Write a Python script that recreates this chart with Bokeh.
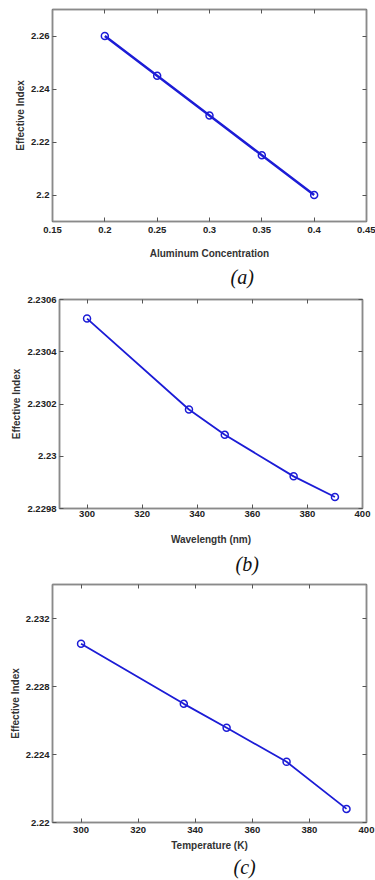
from bokeh.plotting import figure
from bokeh.layouts import column, row
from bokeh.models import FixedTicker, LinearAxis, Range1d, Title, CustomJSTickFormatter
from bokeh.embed import file_html
from bokeh.resources import INLINE

# ---- data (a) ----
al_conc = [0.20, 0.25, 0.30, 0.35, 0.40]
neff_al = [2.260, 2.245, 2.230, 2.215, 2.200]
xticks_a = [0.15, 0.20, 0.25, 0.30, 0.35, 0.40, 0.45]
yticks_a = [2.20, 2.22, 2.24, 2.26]

# ---- data (b) ----
wavelength = [300, 337, 350, 375, 390]
neff_wl = [2.230527, 2.230179, 2.230082, 2.229923, 2.229844]
xticks_b = [300, 320, 340, 360, 380, 400]
yticks_b = [2.2298, 2.2300, 2.2302, 2.2304, 2.2306]

# ---- data (c) ----
temperature = [300, 336, 351, 372, 393]
neff_t = [2.23051, 2.22698, 2.22557, 2.22357, 2.22080]
xticks_c = [300, 320, 340, 360, 380, 400]
yticks_c = [2.220, 2.224, 2.228, 2.232]

BLUE = "#1c1cd6"
GRAY = "#8a8a8a"
TICKFONT = "Liberation Sans"
fmt_code = "return parseFloat(tick.toFixed(6)).toString();"


def mirror_axis(ticks):
    return LinearAxis(ticker=FixedTicker(ticks=ticks), major_label_text_font_size="1px",
                      major_label_text_font=TICKFONT,
                      major_label_text_color=None, major_tick_in=4, major_tick_out=0,
                      major_label_standoff=0, minor_tick_line_color=None,
                      axis_line_color=GRAY, axis_line_width=1.5,
                      major_tick_line_color="#555555")


def make_panel(x, y, xr, yr, xt, yt, xlabel, caption, h, bl, br, bt, bb,
               cap_offset, lw, tick_standoff, axlabel_standoff, cap_standoff):
    p = figure(width=375, height=h, output_backend="svg",
               toolbar_location=None, x_range=Range1d(*xr), y_range=Range1d(*yr),
               min_border_left=bl, min_border_right=br, min_border_top=bt,
               min_border_bottom=bb, background_fill_color="white",
               border_fill_color="white")
    p.grid.visible = False
    p.outline_line_color = GRAY
    p.outline_line_width = 1.5

    for ax, ticks in ((p.xaxis[0], xt), (p.yaxis[0], yt)):
        ax.ticker = FixedTicker(ticks=ticks)
        ax.formatter = CustomJSTickFormatter(code=fmt_code)
        ax.major_tick_in = 4
        ax.major_tick_out = 0
        ax.minor_tick_line_color = None
        ax.axis_line_color = GRAY
        ax.axis_line_width = 1.5
        ax.major_tick_line_color = "#555555"
        ax.major_label_text_font = TICKFONT
        ax.major_label_text_font_style = "bold"
        ax.major_label_text_font_size = "9.5px"
        ax.major_label_text_color = "#222222"
        ax.axis_label_text_font = TICKFONT
        ax.axis_label_text_font_style = "bold"
        ax.axis_label_text_font_size = "10px"
        ax.axis_label_text_color = "#333333"

    p.xaxis[0].major_label_standoff = tick_standoff
    p.yaxis[0].major_label_standoff = 3
    p.xaxis[0].axis_label = xlabel
    p.xaxis[0].axis_label_standoff = axlabel_standoff
    p.yaxis[0].axis_label = "Effective Index"
    p.yaxis[0].axis_label_standoff = 2

    # mirrored tick marks on top and right (box style)
    p.add_layout(mirror_axis(xt), "above")
    p.add_layout(mirror_axis(yt), "right")

    p.line(x, y, line_color=BLUE, line_width=lw)
    p.scatter(x, y, marker="circle", size=7, fill_color=None,
              line_color=BLUE, line_width=1.5)

    p.add_layout(Title(text=caption, text_font="Liberation Serif",
                       text_font_style="italic", text_font_size="20px",
                       text_color="#111111", align="left", offset=cap_offset,
                       standoff=cap_standoff), "below")
    return p


pa = make_panel(al_conc, neff_al, (0.15, 0.45), (2.19, 2.27), xticks_a, yticks_a,
                "Aluminum Concentration", "(a)", 290, 52, 9, 9, 68,
                178, 2.5, 5, 12, 5)
pb = make_panel(wavelength, neff_wl, (290, 400), (2.2298, 2.2306), xticks_b, yticks_b,
                "Wavelength (nm)", "(b)", 287, 59, 13, 9, 68,
                176, 1.8, 2, 14, 6)
pc = make_panel(temperature, neff_t, (290, 400), (2.220, 2.234), xticks_c, yticks_c,
                "Temperature (K)", "(c)", 303, 52, 9, 7, 58,
                181, 1.8, 4, 4, 0)

layout = column(row(pa), row(pb), row(pc), spacing=0)
open("out.html", "w").write(file_html(layout, INLINE))
